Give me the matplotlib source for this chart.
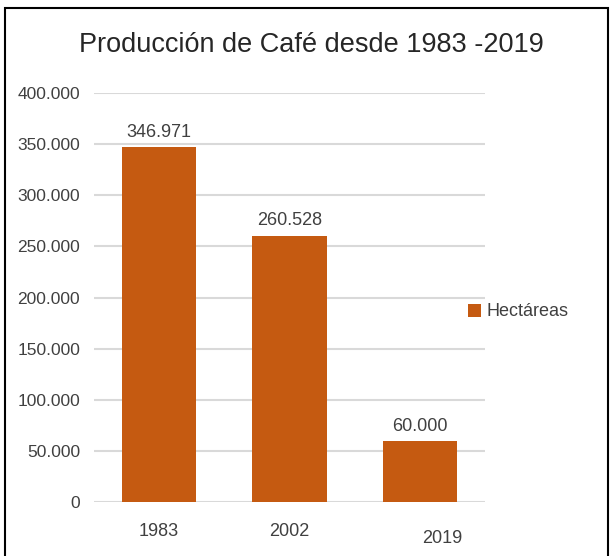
import matplotlib.pyplot as plt
import matplotlib.transforms as mtransforms
from matplotlib.patches import Rectangle

years = ["1983", "2002", "2019"]
hectareas = [346971, 260528, 60000]
y_ticks = [0, 50000, 100000, 150000, 200000, 250000, 300000, 350000, 400000]

bar_color = "#C55A11"
text_color = "#404040"

plt.rcParams["font.family"] = ["Liberation Sans", "DejaVu Sans"]

def fmt(v):
    return "{:,}".format(v).replace(",", ".")

fig = plt.figure(figsize=(6.12, 5.56), dpi=100)
ax = fig.add_axes([94/612, 1-502/556, (485-94)/612, (502-93)/556])

x = range(len(years))
bars = ax.bar(x, hectareas, width=0.57, color=bar_color, zorder=3, label="Hectáreas")
for xi, v in zip(x, hectareas):
    ax.text(xi, v + 6000, fmt(v), ha="center", va="bottom", fontsize=13, color=text_color)

ax.set_xlim(-0.5, 2.5)
ax.set_ylim(0, 400000)
ax.set_yticks(y_ticks)
ax.set_yticklabels([fmt(v) for v in y_ticks], fontsize=12.5, color=text_color)
ax.set_xticks(list(x))
ax.set_xticklabels(years, fontsize=13, color=text_color)
ax.tick_params(axis="both", length=0)
ax.tick_params(axis="y", pad=10)
ax.tick_params(axis="x", pad=15)
ax.yaxis.grid(True, color="#D9D9D9", linewidth=1.5, zorder=0)
for s in ax.spines.values():
    s.set_visible(False)

# the 2019 label sits a bit lower and to the right in the original
lab = ax.get_xticklabels()[2]
lab.set_transform(lab.get_transform() + mtransforms.ScaledTranslation(0.22, -0.07, fig.dpi_scale_trans))

fig.text(311/612, 1 - 45/556, "Producción de Café desde 1983 -2019", ha="center", va="center",
         fontsize=19.5, color="#262626")

fig.legend(handles=[bars], labels=["Hectáreas"], loc="center left", bbox_to_anchor=(452/612, 1-312/556),
           frameon=False, fontsize=13, handlelength=0.7, handleheight=0.7, handletextpad=0.3,
           labelcolor=text_color)

fig.patches.append(Rectangle((5/612, -0.02), (608-5)/612, 1.02 - 8/556, transform=fig.transFigure,
                             fill=False, edgecolor="black", linewidth=1.5))

fig.savefig("out.png", dpi=100)
